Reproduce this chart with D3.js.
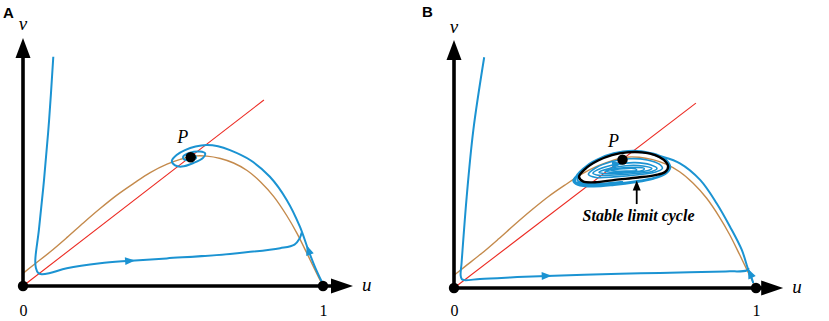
<!DOCTYPE html>
<html>
<head>
<meta charset="utf-8">
<script src="https://cdn.jsdelivr.net/npm/d3@7"></script>
<style>
  body { margin: 0; background: #fff; }
  svg { display: block; }
</style>
</head>
<body>
<svg id="chart" width="829" height="321"></svg>
<script>
// u-nullcline (brown) - same curve in both panels, [u, v]
const uNullcline = [
  [0, 0.042], [0.035, 0.07], [0.091, 0.114], [0.147, 0.162], [0.202, 0.211], [0.258, 0.259],
  [0.313, 0.303], [0.369, 0.342], [0.424, 0.378], [0.48, 0.406], [0.524, 0.422], [0.569, 0.433],
  [0.613, 0.433], [0.658, 0.425], [0.702, 0.41], [0.747, 0.385], [0.792, 0.347], [0.836, 0.298],
  [0.879, 0.235], [0.912, 0.178], [0.946, 0.11], [0.975, 0.05], [1, 0]
];
// v-nullcline (red straight line)
const vNullclineA = [[0, 0], [0.803, 0.62]];
const vNullclineB = [[0, 0], [0.801, 0.612]];

// equilibria
const boundaryPoints = [[0, 0], [1, 0]];
const equilibriumA = [0.559, 0.429];
const equilibriumB = [0.558, 0.425];
const uTicks = [0, 1];

// trajectories, panel A
const trajLeftA = [
  [0.101, 0.764], [0.087, 0.553], [0.07, 0.353], [0.053, 0.187], [0.041, 0.087], [0.043, 0.06],
  [0.051, 0.043], [0.062, 0.039], [0.09, 0.043], [0.146, 0.059], [0.257, 0.076], [0.357, 0.084],
  [0.479, 0.092], [0.69, 0.107], [0.857, 0.126], [0.905, 0.138], [0.922, 0.158], [0.929, 0.178]
];
const trajMainA = [
  [0.996, 0.014], [0.973, 0.064], [0.951, 0.12], [0.923, 0.198], [0.879, 0.287], [0.823, 0.364],
  [0.757, 0.42], [0.69, 0.453], [0.65, 0.466], [0.612, 0.47], [0.575, 0.465], [0.54, 0.453],
  [0.512, 0.437], [0.496, 0.417], [0.507, 0.402], [0.529, 0.398], [0.568, 0.41], [0.601, 0.428],
  [0.607, 0.442], [0.59, 0.448], [0.557, 0.444], [0.534, 0.431], [0.537, 0.422], [0.557, 0.42],
  [0.577, 0.427], [0.57, 0.437], [0.559, 0.429]
];

// trajectories, panel B
const trajLeftB = [
  [0.1, 0.764], [0.064, 0.523], [0.042, 0.302], [0.025, 0.082], [0.022, 0.042], [0.026, 0.029],
  [0.036, 0.026], [0.086, 0.03], [0.186, 0.035], [0.307, 0.04], [0.55, 0.047], [0.682, 0.05],
  [0.9, 0.055], [0.969, 0.058], [0.976, 0.066]
];
const trajMainB = [
  [0.991, 0.016], [0.98, 0.049], [0.974, 0.062], [0.953, 0.126], [0.914, 0.203], [0.87, 0.28],
  [0.815, 0.358], [0.748, 0.413], [0.682, 0.437], [0.62, 0.453], [0.56, 0.452], [0.5, 0.437],
  [0.45, 0.41], [0.41, 0.375], [0.395, 0.355], [0.41, 0.342], [0.46, 0.336], [0.53, 0.341],
  [0.6, 0.35], [0.66, 0.362], [0.7, 0.378], [0.716, 0.398], [0.705, 0.422], [0.67, 0.442],
  [0.61, 0.452], [0.55, 0.45], [0.49, 0.432], [0.44, 0.405], [0.405, 0.37], [0.402, 0.352],
  [0.425, 0.344], [0.48, 0.341], [0.55, 0.347], [0.62, 0.356], [0.67, 0.367], [0.705, 0.383],
  [0.714, 0.4], [0.703, 0.42], [0.665, 0.44], [0.61, 0.45], [0.55, 0.448], [0.49, 0.43],
  [0.445, 0.403], [0.412, 0.37], [0.41, 0.355], [0.435, 0.348], [0.49, 0.346], [0.56, 0.352]
];
const limitCycleB = [
  [0.414, 0.368], [0.434, 0.394], [0.477, 0.422], [0.523, 0.44], [0.573, 0.449], [0.623, 0.449],
  [0.666, 0.44], [0.695, 0.424], [0.709, 0.402], [0.699, 0.384], [0.666, 0.374], [0.609, 0.366],
  [0.533, 0.358], [0.467, 0.35], [0.427, 0.353]
];
const innerLoopsB = [
  [[0.445, 0.376], [0.47, 0.398], [0.52, 0.418], [0.58, 0.428], [0.64, 0.424], [0.68, 0.41],
   [0.69, 0.396], [0.665, 0.383], [0.61, 0.375], [0.53, 0.368], [0.47, 0.366]],
  [[0.46, 0.38], [0.49, 0.397], [0.54, 0.41], [0.6, 0.415], [0.65, 0.408], [0.672, 0.396],
   [0.655, 0.386], [0.6, 0.379], [0.53, 0.374], [0.48, 0.373]],
  [[0.48, 0.383], [0.52, 0.397], [0.57, 0.405], [0.625, 0.404], [0.655, 0.396], [0.64, 0.388],
   [0.59, 0.383], [0.53, 0.379], [0.495, 0.379]],
  [[0.5, 0.386], [0.54, 0.396], [0.59, 0.399], [0.63, 0.396], [0.625, 0.389], [0.58, 0.385],
   [0.53, 0.383]],
  [[0.52, 0.389], [0.56, 0.395], [0.6, 0.395], [0.605, 0.39], [0.57, 0.387], [0.535, 0.387]]
];

const serif = '"Liberation Serif", "Times New Roman", "DejaVu Serif", serif';
const sans = '"Liberation Sans", Arial, sans-serif';

class PhasePortrait {

  constructor(_config, _data) {
    this.config = {
      parentElement: _config.parentElement,
      origin: _config.origin,        // pixel position of (0,0)
      unit: _config.unit,            // pixels per unit on both axes
      uTip: _config.uTip,
      vTip: _config.vTip,
      tickY: _config.tickY,
      panelLabel: _config.panelLabel,
      panelLabelPos: _config.panelLabelPos,
      pLabelOffset: _config.pLabelOffset,
      vLabelDy: _config.vLabelDy,
      arrows: _config.arrows,
      annotation: _config.annotation
    };
    this.data = _data;
    this.initVis();
  }

  initVis() {
    let vis = this;
    const [ox, oy] = vis.config.origin;

    vis.chart = d3.select(vis.config.parentElement).append('g');

    vis.x = d3.scaleLinear().domain([0, 1]).range([ox, ox + vis.config.unit]);
    vis.y = d3.scaleLinear().domain([0, 1]).range([oy, oy - vis.config.unit]);

    vis.line = d3.line()
        .x(d => vis.x(d[0]))
        .y(d => vis.y(d[1]));
    vis.smooth = d3.line()
        .curve(d3.curveCatmullRom.alpha(0.5))
        .x(d => vis.x(d[0]))
        .y(d => vis.y(d[1]));
    vis.loop = d3.line()
        .curve(d3.curveCatmullRomClosed.alpha(0.5))
        .x(d => vis.x(d[0]))
        .y(d => vis.y(d[1]));

    vis.xAxis = d3.axisBottom(vis.x)
        .tickValues(uTicks)
        .tickSize(0)
        .tickFormat(d3.format('d'));

    this.renderVis();
  }

  // filled triangle with its tip at (tx, ty), pointing along (dx, dy)
  arrowHead(tx, ty, dx, dy, len, half) {
    const n = Math.hypot(dx, dy), ux = dx / n, uy = dy / n;
    const bx = tx - ux * len, by = ty - uy * len;
    return `M${tx},${ty}L${bx - uy * half},${by + ux * half}L${bx + uy * half},${by - ux * half}Z`;
  }

  mathText(x, y, str, size) {
    return this.chart.append('text')
        .attr('x', x).attr('y', y)
        .style('font-family', serif)
        .style('font-style', 'italic')
        .style('font-size', size + 'px')
        .text(str);
  }

  renderVis() {
    let vis = this;
    const blue = '#1b93d2';

    // red v-nullcline
    vis.chart.append('path')
        .attr('d', vis.line(vis.data.vNullcline))
        .attr('fill', 'none')
        .attr('stroke', '#ec2a22')
        .attr('stroke-width', 1.1);

    // brown u-nullcline
    vis.chart.append('path')
        .attr('d', vis.smooth(vis.data.uNullcline))
        .attr('fill', 'none')
        .attr('stroke', '#c48a4c')
        .attr('stroke-width', 1.4);

    // closed blue loops (inside the limit cycle)
    vis.chart.selectAll('.inner-loop')
      .data(vis.data.loops || [])
      .join('path')
        .attr('class', 'inner-loop')
        .attr('d', vis.loop)
        .attr('fill', 'none')
        .attr('stroke', blue)
        .attr('stroke-width', 1.6);

    // trajectories
    vis.chart.selectAll('.traj')
      .data(vis.data.trajectories)
      .join('path')
        .attr('class', 'traj')
        .attr('d', vis.smooth)
        .attr('fill', 'none')
        .attr('stroke', blue)
        .attr('stroke-width', 2)
        .attr('stroke-linejoin', 'round');

    // direction arrows on trajectories
    vis.config.arrows.forEach(a => {
      const pts = a.loop ? vis.data.loops[a.path] : vis.data.trajectories[a.path];
      const p = pts[a.at], q = pts[a.at + 1];
      const dx = vis.x(q[0]) - vis.x(p[0]), dy = vis.y(q[1]) - vis.y(p[1]);
      const n = Math.hypot(dx, dy);
      vis.chart.append('path')
          .attr('d', vis.arrowHead(vis.x(p[0]) + dx / n * 5, vis.y(p[1]) + dy / n * 5, dx, dy, 10, 4))
          .attr('fill', blue);
    });

    // black limit cycle
    if (vis.data.limitCycle) {
      vis.chart.append('path')
          .attr('d', vis.loop(vis.data.limitCycle))
          .attr('fill', 'none')
          .attr('stroke', '#000')
          .attr('stroke-width', 2.4);
    }

    // axes with arrowheads
    const x0 = vis.x(0), y0 = vis.y(0);
    const xt = vis.x(vis.config.uTip), yt = vis.y(vis.config.vTip);
    vis.chart.append('line')
        .attr('x1', x0).attr('y1', y0).attr('x2', xt - 12).attr('y2', y0)
        .attr('stroke', '#000').attr('stroke-width', 3.6);
    vis.chart.append('line')
        .attr('x1', x0).attr('y1', y0).attr('x2', x0).attr('y2', yt + 12)
        .attr('stroke', '#000').attr('stroke-width', 3.6);
    vis.chart.append('path')
        .attr('d', vis.arrowHead(xt, y0, 1, 0, 22, 7.5))
        .attr('fill', '#000');
    vis.chart.append('path')
        .attr('d', vis.arrowHead(x0, yt, 0, -1, 20, 7.5))
        .attr('fill', '#000');

    vis.chart.append('g')
        .attr('transform', `translate(0,${y0})`)
        .call(vis.xAxis)
        .call(g => g.select('.domain').remove())
        .call(g => g.selectAll('.tick text')
            .attr('dy', null)
            .attr('y', vis.config.tickY)
            .attr('fill', '#000')
            .style('font-family', serif)
            .style('font-size', '16px'));

    // axis names
    vis.mathText(xt + 9, y0 + 5, 'u', 19);
    vis.mathText(x0, yt + vis.config.vLabelDy, 'v', 19)
        .attr('text-anchor', 'middle');

    // equilibrium points
    vis.chart.selectAll('.eq-dot')
      .data(boundaryPoints.concat([vis.data.equilibrium]))
      .join('circle')
        .attr('class', 'eq-dot')
        .attr('cx', d => vis.x(d[0]))
        .attr('cy', d => vis.y(d[1]))
        .attr('r', 5.2)
        .attr('fill', '#000');

    vis.mathText(vis.x(vis.data.equilibrium[0]) + vis.config.pLabelOffset[0],
                 vis.y(vis.data.equilibrium[1]) + vis.config.pLabelOffset[1], 'P', 18)
        .attr('text-anchor', 'middle');

    // panel letter
    vis.chart.append('text')
        .attr('x', vis.config.panelLabelPos[0])
        .attr('y', vis.config.panelLabelPos[1])
        .style('font-family', sans)
        .style('font-weight', 'bold')
        .style('font-size', '15px')
        .text(vis.config.panelLabel);

    // annotation for the limit cycle
    const ann = vis.config.annotation;
    if (ann) {
      vis.chart.append('line')
          .attr('x1', vis.x(ann.arrowU)).attr('y1', vis.y(ann.arrowFrom))
          .attr('x2', vis.x(ann.arrowU)).attr('y2', vis.y(ann.arrowTo) + 8)
          .attr('stroke', '#000').attr('stroke-width', 1.8);
      vis.chart.append('path')
          .attr('d', vis.arrowHead(vis.x(ann.arrowU), vis.y(ann.arrowTo), 0, -1, 10, 4))
          .attr('fill', '#000');
      vis.mathText(vis.x(ann.textU), vis.y(ann.textV), ann.text, 16)
          .attr('text-anchor', 'middle')
          .style('font-weight', 'bold');
    }
  }
}

new PhasePortrait({
  parentElement: '#chart',
  origin: [23, 286],
  unit: 300,
  uTip: 1.1,
  vTip: 0.827,
  tickY: 30,
  panelLabel: 'A',
  panelLabelPos: [3, 18],
  pLabelOffset: [-8, -14],
  vLabelDy: -8,
  arrows: [{path: 0, at: 11}, {path: 1, at: 2}]
}, {
  uNullcline: uNullcline,
  vNullcline: vNullclineA,
  equilibrium: equilibriumA,
  trajectories: [trajLeftA, trajMainA]
});

new PhasePortrait({
  parentElement: '#chart',
  origin: [454, 288],
  unit: 302,
  uTip: 1.09,
  vTip: 0.821,
  tickY: 28,
  panelLabel: 'B',
  panelLabelPos: [422, 17],
  pLabelOffset: [-9, -13],
  vLabelDy: -7,
  arrows: [{path: 0, at: 9}, {path: 1, at: 1}, {path: 1, at: 2, loop: true}],
  annotation: {text: 'Stable limit cycle', arrowU: 0.605, arrowFrom: 0.278, arrowTo: 0.356,
               textU: 0.611, textV: 0.221}
}, {
  uNullcline: uNullcline,
  vNullcline: vNullclineB,
  equilibrium: equilibriumB,
  trajectories: [trajLeftB, trajMainB],
  loops: innerLoopsB,
  limitCycle: limitCycleB
});
</script>
</body>
</html>
